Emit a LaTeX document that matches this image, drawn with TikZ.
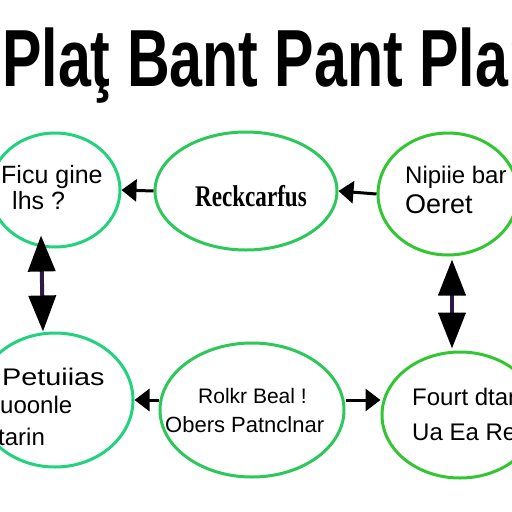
\documentclass[tikz,border=0pt]{standalone}
\usepackage{fontspec}
\setmainfont{Liberation Sans}
\newfontfamily\serifl{Liberation Serif}
\usetikzlibrary{shapes.geometric,arrows.meta}
\definecolor{gTeal}{RGB}{35,210,125}
\definecolor{gMid}{RGB}{45,200,90}
\definecolor{gPure}{RGB}{50,198,50}
\definecolor{shaft}{RGB}{45,25,65}
\tikzset{
  oval/.style={ellipse, line width=3pt, inner sep=0pt, fill=none},
  lbl/.style={anchor=base west, inner sep=0pt, text=black},
  harrow/.style={line width=3pt, black, -{Triangle[length=15pt,width=22pt]}},
  vtip/.style={Triangle[length=36pt,width=27pt,color=black]},
  varrow/.style={line width=4pt, draw=shaft, {Triangle[length=36pt,width=27pt,color=black]}-{Triangle[length=36pt,width=27pt,color=black]}},
}
\begin{document}
\begin{tikzpicture}[x=1pt,y=-1pt]
\useasboundingbox (0,0) rectangle (512,512);
\fill[white] (0,0) rectangle (512,512);

% title
\node[lbl, font=\bfseries\fontsize{81}{81}\selectfont] (title) at (2,86) {\scalebox{0.73}[1]{Plaţ Bant Pant Plan}};

% ellipses
\node[oval, draw=gTeal, minimum width=130pt, minimum height=114pt] (tl) at (55,190) {};
\node[oval, draw=gMid,  minimum width=182pt, minimum height=118pt] (tm) at (246,191) {};
\node[oval, draw=gPure, minimum width=140pt, minimum height=122pt] (tr) at (448,194) {};
\node[oval, draw=gTeal, minimum width=156pt, minimum height=134pt] (bl) at (55,400) {};
\node[oval, draw=gMid,  minimum width=184pt, minimum height=134pt] (bm) at (252,410) {};
\node[oval, draw=gPure, minimum width=156pt, minimum height=126pt] (br) at (460,415) {};

% labels
\node[lbl, font=\fontsize{25}{25}\selectfont] (tla) at (1,183) {Ficu gine};
\node[lbl, font=\fontsize{25}{25}\selectfont] (tlb) at (12,209) {lhs ?};
\node[lbl, font=\serifl\bfseries\fontsize{30}{30}\selectfont] (tma) at (195,206) {\scalebox{0.77}[1]{Reckcarfus}};
\node[lbl, font=\fontsize{24}{24}\selectfont] (tra) at (405,183) {Nipiie bar};
\node[lbl, font=\fontsize{27}{27}\selectfont] (trb) at (405,213) {Oeret};
\node[lbl, font=\fontsize{24}{24}\selectfont] (bla) at (2,385) {\scalebox{1.2}[1]{Petuiias}};
\node[lbl, font=\fontsize{24}{24}\selectfont] (blb) at (0,413) {uoonle};
\node[lbl, font=\fontsize{24}{24}\selectfont] (blc) at (-2,445) {tarin};
\node[lbl, font=\fontsize{21}{21}\selectfont] (bma) at (198,403) {Rolkr Beal !};
\node[lbl, font=\fontsize{22}{22}\selectfont] (bmb) at (165,432) {Obers Patnclnar};
\node[lbl, font=\fontsize{24}{24}\selectfont] (bra) at (412,405) {Fourt dtan};
\node[lbl, font=\fontsize{24}{24}\selectfont] (brb) at (412,440) {Ua Ea Re};

% connectors
\draw[harrow] (tm.west) -- (tl.east);
\draw[harrow] (tr.west) -- (tm.east);
\draw[harrow] (bm.west |- bl.east) -- (bl.east);
\draw[harrow] (bm.east |- 0,400) -- (br.west |- 0,400);
\draw[varrow] ([xshift=-14pt,yshift=13pt]tl.south) -- ([xshift=-12pt]bl.north);
\draw[varrow] ([xshift=4pt,yshift=-3pt]tr.south) -- ([xshift=-8pt,yshift=2pt]br.north);
\end{tikzpicture}
\end{document}
